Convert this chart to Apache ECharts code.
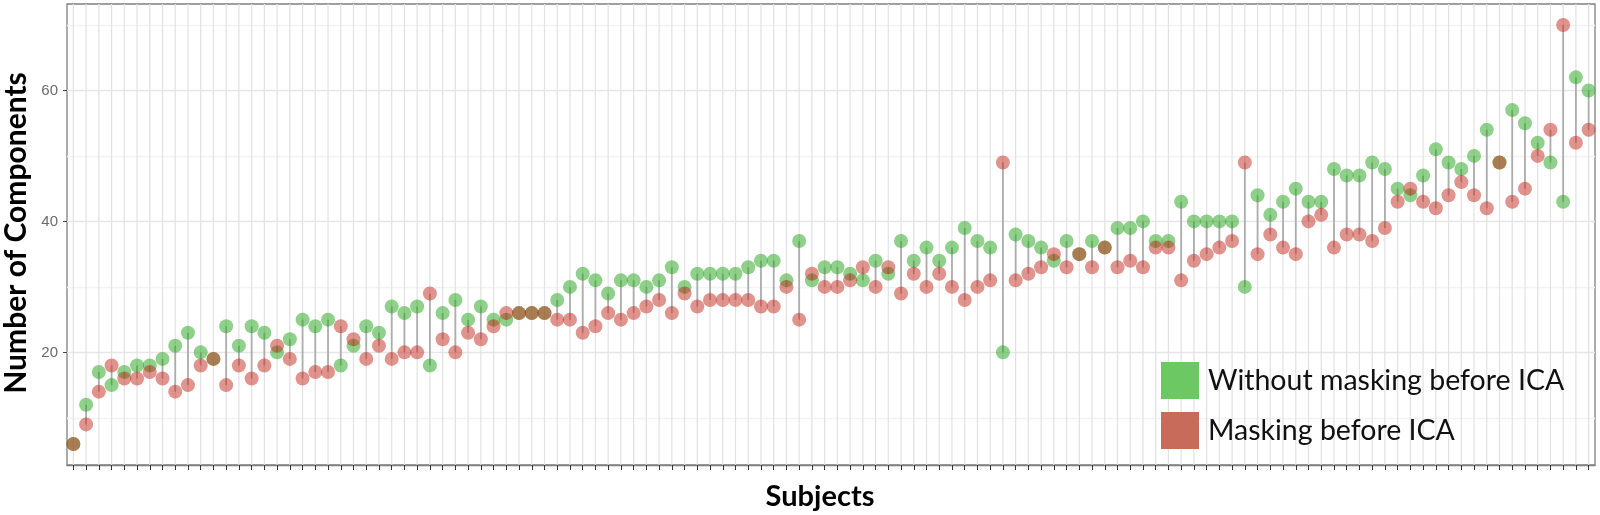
<!DOCTYPE html>
<html>
<head>
<meta charset="utf-8">
<script src="https://cdn.jsdelivr.net/npm/echarts@6/dist/echarts.min.js"></script>
<style>
    html, body { margin: 0; padding: 0; background: #fff; }
    #chart { width: 1600px; height: 515px; }
</style>
</head>
<body>
<div id="chart"></div>
<script>
    // one entry per subject, sorted as in the figure
    const subjects = Array.from({ length: 120 }, (_, i) => String(i + 1));

    const withoutMasking = [
        6, 12, 17, 15, 17, 18, 18, 19, 21, 23,
        20, 19, 24, 21, 24, 23, 20, 22, 25, 24,
        25, 18, 21, 24, 23, 27, 26, 27, 18, 26,
        28, 25, 27, 25, 25, 26, 26, 26, 28, 30,
        32, 31, 29, 31, 31, 30, 31, 33, 30, 32,
        32, 32, 32, 33, 34, 34, 31, 37, 31, 33,
        33, 32, 31, 34, 32, 37, 34, 36, 34, 36,
        39, 37, 36, 20, 38, 37, 36, 34, 37, 35,
        37, 36, 39, 39, 40, 37, 37, 43, 40, 40,
        40, 40, 30, 44, 41, 43, 45, 43, 43, 48,
        47, 47, 49, 48, 45, 44, 47, 51, 49, 48,
        50, 54, 49, 57, 55, 52, 49, 43, 62, 60
    ];

    const withMasking = [
        6, 9, 14, 18, 16, 16, 17, 16, 14, 15,
        18, 19, 15, 18, 16, 18, 21, 19, 16, 17,
        17, 24, 22, 19, 21, 19, 20, 20, 29, 22,
        20, 23, 22, 24, 26, 26, 26, 26, 25, 25,
        23, 24, 26, 25, 26, 27, 28, 26, 29, 27,
        28, 28, 28, 28, 27, 27, 30, 25, 32, 30,
        30, 31, 33, 30, 33, 29, 32, 30, 32, 30,
        28, 30, 31, 49, 31, 32, 33, 35, 33, 35,
        33, 36, 33, 34, 33, 36, 36, 31, 34, 35,
        36, 37, 49, 35, 38, 36, 35, 40, 41, 36,
        38, 38, 37, 39, 43, 45, 43, 42, 44, 46,
        44, 42, 49, 43, 45, 50, 54, 70, 52, 54
    ];

    const yTickLabels = [20, 40, 60];
    const yMin = 2.8;
    const yMax = 73.2;

    const nameWithout = 'Without masking before ICA';
    const nameWith = 'Masking before ICA';

    const chart = echarts.init(document.getElementById('chart'), null, { renderer: 'canvas' });

    const pairs = subjects.map((s, i) => [i, withoutMasking[i], withMasking[i]]);

    // vertical grid line on every subject
    function renderGridLine (params, api) {
        const p = api.coord([api.value(0), yMin]);
        const cs = params.coordSys;
        return {
            type: 'line',
            silent: true,
            shape: { x1: p[0], y1: cs.y, x2: p[0], y2: cs.y + cs.height },
            style: { stroke: '#e2e2e2', lineWidth: 1.2 }
        };
    }

    // grey segment linking the two values of one subject
    function renderSegment (params, api) {
        const a = api.coord([api.value(0), api.value(1)]);
        const b = api.coord([api.value(0), api.value(2)]);
        return {
            type: 'line',
            silent: true,
            shape: { x1: a[0], y1: a[1], x2: b[0], y2: b[1] },
            style: { stroke: '#adadad', lineWidth: 1.8 }
        };
    }

    chart.setOption({
        animation: false,
        backgroundColor: '#fff',
        grid: {
            left: 67,
            right: 5,
            top: 4,
            bottom: 50,
            show: true,
            backgroundColor: '#fff',
            borderColor: '#808080',
            borderWidth: 1.3
        },
        xAxis: {
            type: 'category',
            data: subjects,
            boundaryGap: true,
            axisLine: { show: true, lineStyle: { color: '#808080', width: 1.3 } },
            axisTick: {
                show: true,
                alignWithLabel: true,
                interval: 0,
                length: 5,
                lineStyle: { color: '#333' }
            },
            axisLabel: { show: false },
            splitLine: { show: false }
        },
        yAxis: [
            {
                type: 'value',
                min: yMin,
                max: yMax,
                splitNumber: 7,
                axisLine: { show: false },
                axisTick: { show: false },
                axisLabel: { show: false },
                splitLine: {
                    show: true,
                    showMinLine: false,
                    showMaxLine: false,
                    lineStyle: { color: ['#f3f3f3', '#e7e7e7'], width: 1.3 }
                }
            },
            {
                type: 'value',
                position: 'left',
                min: yMin,
                max: yMax,
                axisLine: { show: false },
                axisTick: {
                    show: true,
                    length: 4,
                    customValues: yTickLabels,
                    lineStyle: { color: '#444' }
                },
                axisLabel: {
                    customValues: yTickLabels,
                    margin: 9,
                    fontSize: 15,
                    color: '#6b6b6b',
                    fontFamily: 'Liberation Sans',
                    formatter: v => yTickLabels.indexOf(v) >= 0 ? String(v) : ''
                },
                splitLine: { show: false }
            }
        ],
        legend: {
            orient: 'vertical',
            left: 1161,
            top: 362,
            padding: 0,
            itemWidth: 38,
            itemHeight: 37,
            itemGap: 13,
            icon: 'rect',
            selectedMode: false,
            textStyle: {
                fontSize: 28.5,
                fontFamily: 'Lato',
                color: '#111',
                padding: [0, 0, 0, 4]
            },
            data: [
                { name: nameWithout, itemStyle: { color: '#6cc862', opacity: 1 } },
                { name: nameWith, itemStyle: { color: '#c86b5b', opacity: 1 } }
            ]
        },
        graphic: [
            {
                type: 'text',
                x: 16,
                y: 233,
                rotation: Math.PI / 2,
                style: {
                    text: 'Number of Components',
                    font: 'bold 30px Lato',
                    fill: '#000',
                    align: 'center',
                    verticalAlign: 'middle'
                }
            },
            {
                type: 'text',
                x: 820,
                y: 497,
                style: {
                    text: 'Subjects',
                    font: 'bold 29px Lato',
                    fill: '#000',
                    align: 'center',
                    verticalAlign: 'middle'
                }
            }
        ],
        series: [
            {
                type: 'custom',
                z: 1,
                silent: true,
                renderItem: renderGridLine,
                encode: { x: 0 },
                data: pairs
            },
            {
                type: 'custom',
                z: 2,
                silent: true,
                renderItem: renderSegment,
                encode: { x: 0, y: [1, 2] },
                data: pairs
            },
            {
                name: nameWithout,
                type: 'scatter',
                z: 3,
                symbolSize: 14,
                itemStyle: { color: 'rgb(31,163,21)', opacity: 0.5 },
                emphasis: { disabled: true },
                data: withoutMasking
            },
            {
                name: nameWith,
                type: 'scatter',
                z: 4,
                symbolSize: 14,
                itemStyle: { color: 'rgb(193,41,27)', opacity: 0.5 },
                emphasis: { disabled: true },
                data: withMasking
            }
        ]
    });
</script>
</body>
</html>
